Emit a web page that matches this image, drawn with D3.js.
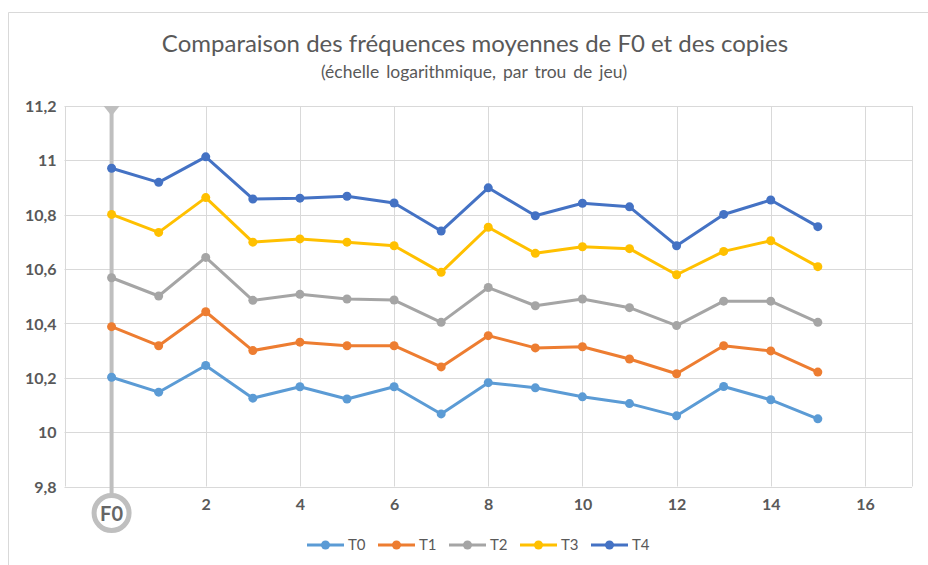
<!DOCTYPE html>
<html>
<head>
<meta charset="utf-8">
<script src="https://cdn.jsdelivr.net/npm/d3@7"></script>
<style>
  html, body { margin: 0; padding: 0; background: #fff; }
  svg { display: block; }
  text { font-family: Lato, "Open Sans", sans-serif; }
</style>
</head>
<body>
<svg id="chart" width="928" height="565"></svg>
<script>
// ---- Data ----
const holes = [0, 1, 2, 3, 4, 5, 6, 7, 8, 9, 10, 11, 12, 13, 14, 15];
const seriesNames = ["T0", "T1", "T2", "T3", "T4"];
const T0 = [10.202, 10.147, 10.245, 10.125, 10.167, 10.122, 10.167, 10.067, 10.182, 10.163, 10.130, 10.105, 10.060, 10.168, 10.119, 10.049];
const T1 = [10.388, 10.318, 10.443, 10.300, 10.331, 10.318, 10.318, 10.240, 10.355, 10.310, 10.314, 10.269, 10.215, 10.318, 10.299, 10.221];
const T2 = [10.568, 10.501, 10.643, 10.485, 10.507, 10.490, 10.486, 10.404, 10.532, 10.465, 10.490, 10.458, 10.392, 10.482, 10.482, 10.404];
const T3 = [10.801, 10.735, 10.863, 10.699, 10.711, 10.699, 10.686, 10.588, 10.754, 10.658, 10.682, 10.675, 10.579, 10.665, 10.704, 10.609];
const T4 = [10.971, 10.919, 11.013, 10.858, 10.861, 10.868, 10.843, 10.740, 10.899, 10.796, 10.842, 10.829, 10.686, 10.801, 10.854, 10.756];
const yTicks = [9.8, 10, 10.2, 10.4, 10.6, 10.8, 11, 11.2];
const xTicks = [2, 4, 6, 8, 10, 12, 14, 16];
const colors = ["#5B9BD5", "#ED7D31", "#A5A5A5", "#FFC000", "#4472C4"];
const title = "Comparaison des fréquences moyennes de F0 et des copies";
const subtitle = "(échelle logarithmique, par trou de jeu)";
const markerLabel = "F0";

const allSeries = [T0, T1, T2, T3, T4];

const svg = d3.select("#chart");

// outer chart border (left + top visible)
svg.append("path")
  .attr("d", "M8.5,565 L8.5,12.5 L928,12.5")
  .attr("fill", "none").attr("stroke", "#d9d9d9").attr("stroke-width", 1);

const x = d3.scaleLinear().domain([-1, 17]).range([64.5, 912]);
const y = d3.scaleLinear().domain([9.8, 11.2]).range([486.5, 106]);

// Title
svg.append("text").attr("x", 475).attr("y", 52)
  .attr("text-anchor", "middle").attr("font-size", 24).attr("fill", "#595959")
  .text(title);
svg.append("text").attr("x", 474).attr("y", 78)
  .attr("text-anchor", "middle").attr("font-size", 17.5).attr("fill", "#595959")
  .attr("word-spacing", 2.5)
  .text(subtitle);

// Gridlines
const grid = svg.append("g");
grid.selectAll("line.h").data(yTicks).join("line")
  .attr("x1", x(-1)).attr("x2", x(17))
  .attr("y1", d => Math.round(y(d)) + 0.5).attr("y2", d => Math.round(y(d)) + 0.5)
  .attr("stroke", "#d9d9d9").attr("stroke-width", 1);
grid.selectAll("line.v").data([-1].concat(xTicks, [17])).join("line")
  .attr("y1", y(11.2)).attr("y2", y(9.8))
  .attr("x1", d => Math.round(x(d)) + 0.5).attr("x2", d => Math.round(x(d)) + 0.5)
  .attr("stroke", "#d9d9d9").attr("stroke-width", 1);

// Axes labels via d3 axes
const yAxis = svg.append("g").attr("transform", `translate(${x(-1) - 8},0)`)
  .call(d3.axisLeft(y).tickValues(yTicks).tickSize(0).tickPadding(0)
    .tickFormat(d => String(+d.toFixed(1)).replace(".", ",")));
yAxis.select(".domain").remove();
yAxis.selectAll("text").attr("font-family", "Lato, sans-serif").attr("font-size", 16)
  .attr("font-weight", "bold").attr("fill", "#595959").attr("dy", "0.35em");

const xAxis = svg.append("g").attr("transform", `translate(0,${y(9.8) + 12})`)
  .call(d3.axisBottom(x).tickValues(xTicks).tickSize(0).tickPadding(0));
xAxis.select(".domain").remove();
xAxis.selectAll("text").attr("font-family", "Lato, sans-serif").attr("font-size", 16)
  .attr("font-weight", "bold").attr("fill", "#595959").attr("dy", "0.71em");

// F0 marker line
const fx = x(0);
svg.append("line").attr("x1", fx).attr("x2", fx).attr("y1", y(11.2)).attr("y2", 496)
  .attr("stroke", "#bfbfbf").attr("stroke-width", 4);
svg.append("path")
  .attr("d", `M${fx - 8},${y(11.2)} L${fx + 8},${y(11.2)} L${fx},${y(11.2) + 10} Z`)
  .attr("fill", "#bfbfbf");
svg.append("circle").attr("cx", fx).attr("cy", 513).attr("r", 17.5)
  .attr("fill", "#fff").attr("stroke", "#bfbfbf").attr("stroke-width", 5);
svg.append("text").attr("x", fx).attr("y", 520.5).attr("text-anchor", "middle")
  .attr("font-size", 20).attr("font-weight", "bold").attr("fill", "#666666")
  .text(markerLabel);

// Lines
const line = d3.line().x((d, i) => x(holes[i])).y(d => y(d));
allSeries.forEach((s, k) => {
  const g = svg.append("g");
  g.append("path").datum(s).attr("d", line)
    .attr("fill", "none").attr("stroke", colors[k]).attr("stroke-width", 3)
    .attr("stroke-linejoin", "round");
  g.selectAll("circle").data(s).join("circle")
    .attr("cx", (d, i) => x(holes[i])).attr("cy", d => y(d)).attr("r", 4.5)
    .attr("fill", colors[k]);
});

// Legend
const legend = svg.append("g");
seriesNames.forEach((n, k) => {
  const lx = 307 + k * 71;
  const ly = 545;
  legend.append("line").attr("x1", lx).attr("x2", lx + 37).attr("y1", ly).attr("y2", ly)
    .attr("stroke", colors[k]).attr("stroke-width", 3);
  legend.append("circle").attr("cx", lx + 18.5).attr("cy", ly).attr("r", 4.5).attr("fill", colors[k]);
  legend.append("text").attr("x", lx + 41).attr("y", ly).attr("dy", "0.35em")
    .attr("font-size", 15).attr("fill", "#595959").text(n);
});
</script>
</body>
</html>
